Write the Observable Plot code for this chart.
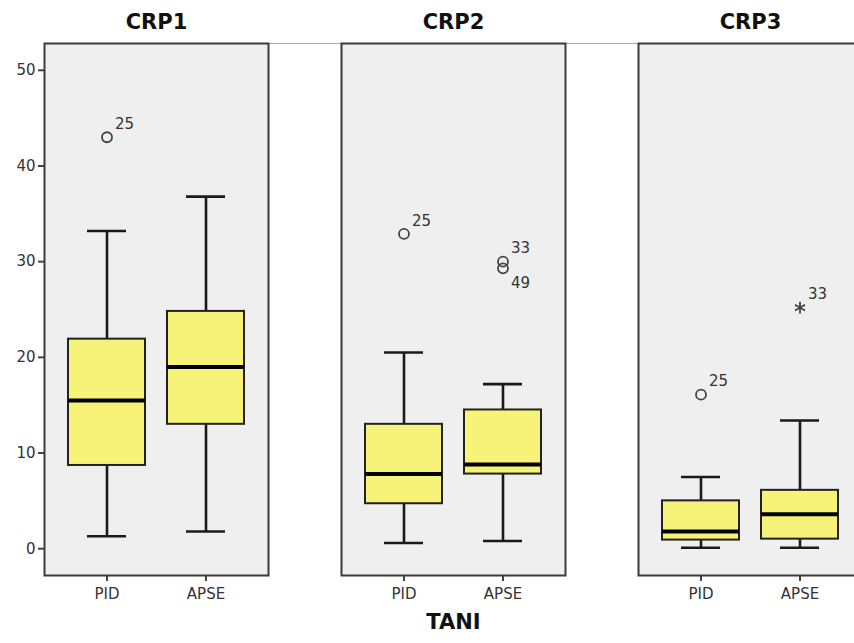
<!DOCTYPE html>
<html><head><meta charset="utf-8">
<script src="https://cdn.jsdelivr.net/npm/d3@7"></script>
<script src="https://cdn.jsdelivr.net/npm/@observablehq/plot@0.6"></script>
<style>html,body{margin:0;padding:0;background:#fff;overflow:hidden}#chart{width:854px;height:643px;overflow:hidden}#chart svg{max-width:none !important}</style>
</head><body><div id="chart"></div>
<script>
const panels = ["CRP1", "CRP2", "CRP3"];
const groups = ["PID", "APSE"];
const boxPanel = ["CRP1", "CRP1", "CRP2", "CRP2", "CRP3", "CRP3"];
const boxGroup = ["PID", "APSE", "PID", "APSE", "PID", "APSE"];
const whiskerLow = [1.3, 1.8, 0.6, 0.8, 0.1, 0.1];
const q1 = [8.7, 13.0, 4.7, 7.8, 0.9, 1.0];
const median = [15.5, 19.0, 7.8, 8.8, 1.8, 3.6];
const q3 = [21.9, 24.8, 13.0, 14.5, 5.0, 6.1];
const whiskerHigh = [33.2, 36.8, 20.5, 17.2, 7.5, 13.4];
const outPanel = ["CRP1", "CRP2", "CRP2", "CRP2", "CRP3", "CRP3"];
const outGroup = ["PID", "PID", "APSE", "APSE", "PID", "APSE"];
const outValue = [43.0, 32.9, 30.0, 29.3, 16.1, 25.2];
const outCase = ["25", "25", "33", "49", "25", "33"];
const outKind = ["o", "o", "o", "o", "o", "*"];
const yTicks = [0, 10, 20, 30, 40, 50];
const yDomain = [-2.8, 52.8];
const xTitle = "TANI";

const boxes = boxPanel.map((p, i) => ({panel: p, group: boxGroup[i], lo: whiskerLow[i], q1: q1[i], med: median[i], q3: q3[i], hi: whiskerHigh[i]}));
const outs = outPanel.map((p, i) => ({panel: p, group: outGroup[i], value: outValue[i], label: outCase[i], kind: outKind[i]}));
const circles = outs.filter(d => d.kind === "o");
const stars = outs.filter(d => d.kind === "*");
const belowLabel = (d, i) => outs.some((e, j) => j !== i && e.panel === d.panel && e.group === d.group && e.value > d.value);
const labelsAbove = outs.filter((d, i) => !belowLabel(d, i));
const labelsBelow = outs.filter((d, i) => belowLabel(d, i));

const ink = "#1a1a1a";
const chart = Plot.plot({
  width: 866,
  height: 643,
  marginTop: 43,
  marginBottom: 68,
  marginLeft: 44,
  marginRight: 4,
  style: {fontFamily: "'DejaVu Sans', Verdana, sans-serif", background: "#fff", color: "#333", maxWidth: "none"},
  fx: {domain: panels, paddingInner: 73 / 297, paddingOuter: 0, axis: null, label: null},
  x: {domain: groups, paddingInner: 0.22, paddingOuter: 0.23, axis: null, label: null},
  y: {domain: yDomain, axis: null, label: null},
  marks: [
    Plot.frame({fill: "#efefef"}),
    Plot.ruleY([yDomain[1]], {stroke: "#aaa", strokeWidth: 1, insetRight: -73}),
    Plot.axisY({ticks: yTicks, tickSize: 6, tickPadding: 3, fontSize: 15, label: null, stroke: "#444", strokeWidth: 2}),
    Plot.axisX({tickSize: 6, tickPadding: 7, fontSize: 15, label: null, stroke: "#444", strokeWidth: 2}),
    Plot.ruleX(boxes, {fx: "panel", x: "group", y1: "lo", y2: "hi", stroke: ink, strokeWidth: 2.6}),
    Plot.tickY(boxes, {fx: "panel", x: "group", y: "lo", stroke: ink, strokeWidth: 2.6, insetLeft: 19, insetRight: 19}),
    Plot.tickY(boxes, {fx: "panel", x: "group", y: "hi", stroke: ink, strokeWidth: 2.6, insetLeft: 19, insetRight: 19}),
    Plot.barY(boxes, {fx: "panel", x: "group", y1: "q1", y2: "q3", fill: "#f7f379", stroke: "#222", strokeWidth: 2}),
    Plot.tickY(boxes, {fx: "panel", x: "group", y: "med", stroke: "#000", strokeWidth: 4}),
    Plot.dot(circles, {fx: "panel", x: "group", y: "value", r: 5, stroke: "#444", strokeWidth: 1.8, fill: "none"}),
    Plot.dot(stars, {fx: "panel", x: "group", y: "value", symbol: "asterisk", r: 5.5, stroke: "#444", strokeWidth: 1.8}),
    Plot.text(labelsAbove, {fx: "panel", x: "group", y: "value", text: "label", textAnchor: "start", dx: 8, dy: -13, fontSize: 15, fill: "#333"}),
    Plot.text(labelsBelow, {fx: "panel", x: "group", y: "value", text: "label", textAnchor: "start", dx: 8, dy: 15, fontSize: 15, fill: "#333"}),
    Plot.frame({stroke: "#3a3a3a", strokeWidth: 2}),
    Plot.text(panels, {fx: d => d, text: d => d, frameAnchor: "top", dy: -29, fontSize: 21, fontWeight: "bold", fill: "#111"}),
    Plot.text([xTitle], {fx: () => panels[1], text: d => d, frameAnchor: "bottom", dy: 53, fontSize: 21, fontWeight: "bold", fill: "#111"})
  ]
});
document.getElementById("chart").appendChild(chart);
</script>
</body></html>
